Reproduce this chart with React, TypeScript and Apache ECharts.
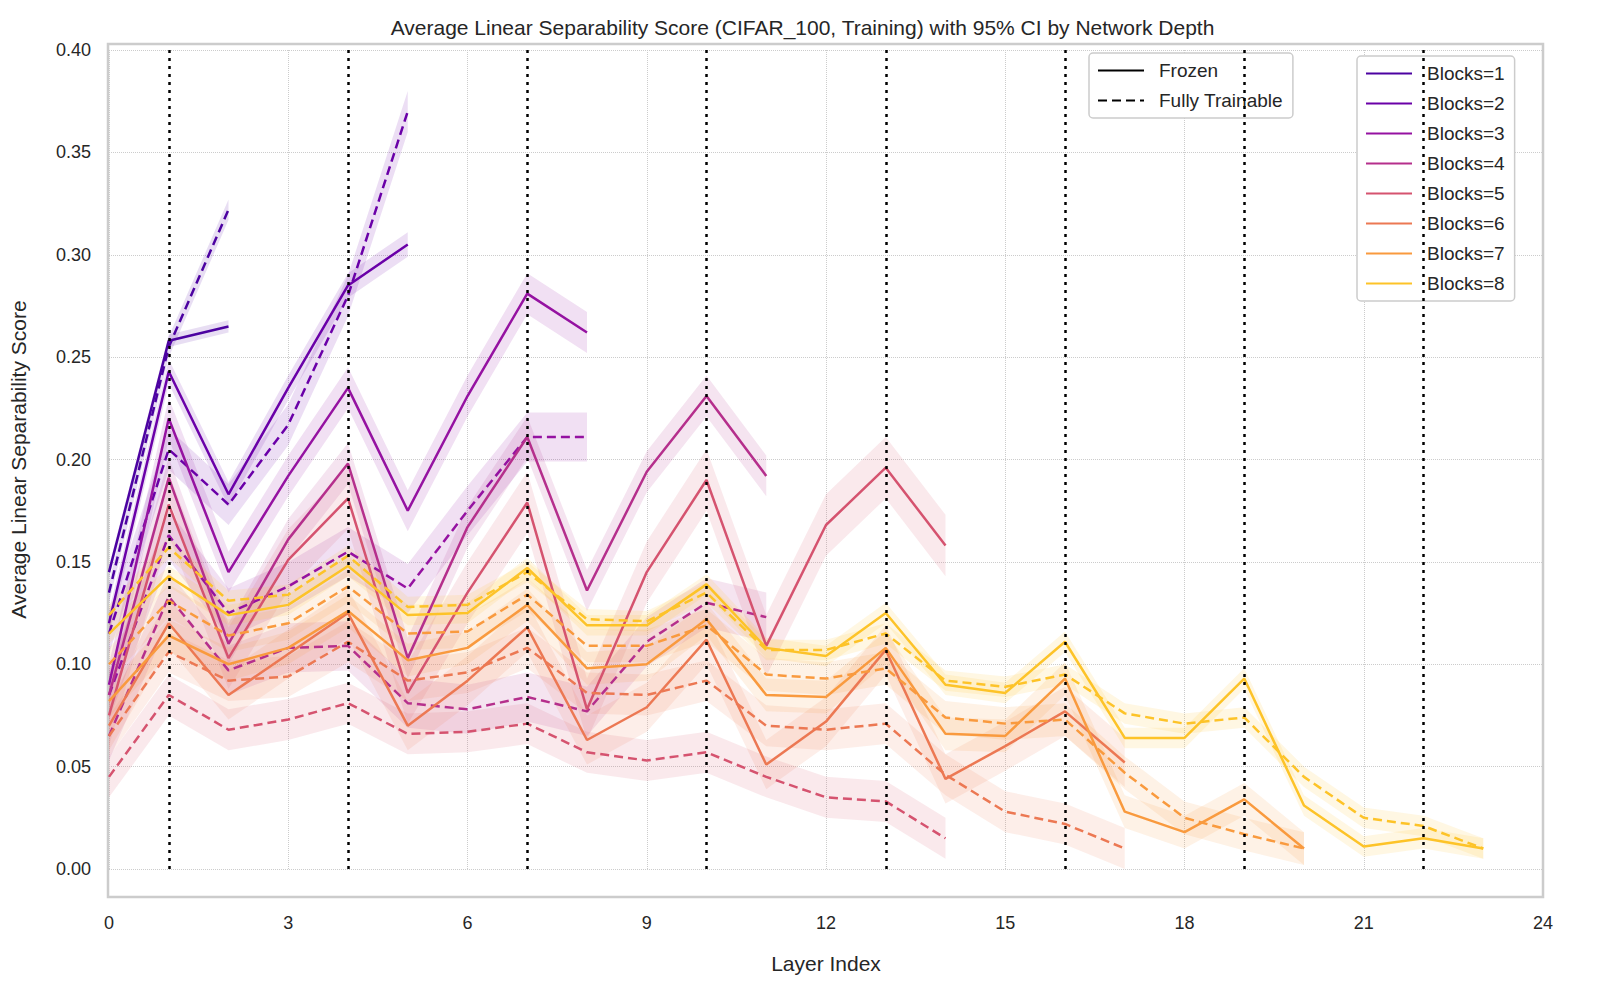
import React, { useEffect, useRef } from 'react'
import * as echarts from 'echarts'

const layers = Array.from({ length: 25 }, (_, i) => String(i))
const blockColors = ['#4c02a1', '#6a00a8', '#9512a1', '#b52f8c', '#d5536f', '#ec7853', '#f99a3e', '#fdc328']

// frozen (solid) and fully trainable (dashed) means per depth
const b1Frozen = [0.145, 0.258, 0.265]
const b1Train = [0.135, 0.255, 0.322]
const b2Frozen = [0.12, 0.243, 0.183, 0.235, 0.285, 0.305]
const b2Train = [0.115, 0.205, 0.178, 0.217, 0.28, 0.37]
const b3Frozen = [0.09, 0.22, 0.145, 0.192, 0.235, 0.175, 0.231, 0.281, 0.262]
const b3Train = [0.085, 0.163, 0.125, 0.138, 0.155, 0.137, 0.175, 0.211, 0.211]
const b4Frozen = [0.085, 0.191, 0.11, 0.161, 0.198, 0.103, 0.167, 0.211, 0.136, 0.194, 0.231, 0.192]
const b4Train = [0.065, 0.133, 0.097, 0.108, 0.109, 0.081, 0.078, 0.084, 0.077, 0.111, 0.13, 0.123]
const b5Frozen = [0.075, 0.178, 0.103, 0.151, 0.181, 0.086, 0.135, 0.179, 0.078, 0.145, 0.19, 0.109, 0.168, 0.196, 0.158]
const b5Train = [0.045, 0.085, 0.068, 0.073, 0.081, 0.066, 0.067, 0.071, 0.057, 0.053, 0.057, 0.045, 0.035, 0.033, 0.015]
const b6Frozen = [0.07, 0.12, 0.085, 0.105, 0.125, 0.07, 0.092, 0.118, 0.063, 0.079, 0.112, 0.051, 0.072, 0.107, 0.044, 0.06, 0.077, 0.052]
const b6Train = [0.065, 0.106, 0.092, 0.094, 0.111, 0.092, 0.096, 0.108, 0.086, 0.085, 0.092, 0.07, 0.068, 0.071, 0.046, 0.028, 0.022, 0.01]
const b7Frozen = [0.082, 0.114, 0.1, 0.108, 0.126, 0.102, 0.108, 0.129, 0.098, 0.1, 0.122, 0.085, 0.084, 0.108, 0.066, 0.065, 0.093, 0.028, 0.018, 0.034, 0.01]
const b7Train = [0.1, 0.131, 0.114, 0.12, 0.138, 0.115, 0.116, 0.134, 0.109, 0.109, 0.119, 0.095, 0.093, 0.098, 0.074, 0.071, 0.073, 0.047, 0.025, 0.017, 0.01]
const b8Frozen = [0.115, 0.143, 0.124, 0.129, 0.148, 0.124, 0.125, 0.147, 0.119, 0.119, 0.139, 0.108, 0.104, 0.125, 0.09, 0.086, 0.111, 0.064, 0.064, 0.093, 0.031, 0.011, 0.015, 0.01]
const b8Train = [0.124, 0.157, 0.131, 0.134, 0.153, 0.128, 0.129, 0.145, 0.122, 0.121, 0.135, 0.107, 0.107, 0.115, 0.092, 0.089, 0.095, 0.076, 0.071, 0.074, 0.045, 0.025, 0.021, 0.01]

// rough 95% CI half widths
const ciFrozen = [0.003, 0.006, 0.01, 0.01, 0.015, 0.012, 0.008, 0.005]
const ciTrain = [0.005, 0.01, 0.012, 0.012, 0.01, 0.01, 0.008, 0.005]

const frozen = [b1Frozen, b2Frozen, b3Frozen, b4Frozen, b5Frozen, b6Frozen, b7Frozen, b8Frozen]
const trainable = [b1Train, b2Train, b3Train, b4Train, b5Train, b6Train, b7Train, b8Train]
const boundaries = ['1', '4', '7', '10', '13', '16', '19', '22']

const font = 'Liberation Sans, Arial, sans-serif'

const App = () => {
    const chart: any = useRef()
    useEffect(() => {
        document.body.style.margin = '0'
        const myChart = echarts.init(chart.current, null, { renderer: 'svg' })
        let series: any = []
        const band = (vals: number[], ci: number, color: string, key: string) => {
            series.push({
                type: 'line', name: 'lo-' + key, stack: key, data: vals.map(v => v - ci),
                symbol: 'none', lineStyle: { opacity: 0 }, silent: true, z: 1
            })
            series.push({
                type: 'line', name: 'hi-' + key, stack: key, data: vals.map(() => 2 * ci),
                symbol: 'none', lineStyle: { opacity: 0 }, silent: true, z: 1,
                areaStyle: { color, opacity: 0.13 }
            })
        }
        for (let i = 0; i < 8; i++) {
            band(frozen[i], ciFrozen[i], blockColors[i], 'f' + i)
            band(trainable[i], ciTrain[i], blockColors[i], 't' + i)
        }
        for (let i = 0; i < 8; i++) {
            series.push({
                type: 'line', name: `Blocks=${i + 1}`, data: frozen[i], symbol: 'none', z: 3,
                color: blockColors[i], lineStyle: { width: 2.5, color: blockColors[i] }
            })
            series.push({
                type: 'line', name: `Blocks=${i + 1} `, data: trainable[i], symbol: 'none', z: 3,
                color: blockColors[i], lineStyle: { width: 2.5, color: blockColors[i], type: [9, 5] }
            })
        }
        series.push({
            type: 'line', name: 'Frozen', data: [], symbol: 'none', color: '#000',
            lineStyle: { width: 2.5, color: '#000' },
            markLine: {
                silent: true, symbol: 'none', label: { show: false },
                lineStyle: { color: '#000', type: [3, 5], width: 2.5 },
                data: boundaries.map(b => ({ xAxis: b }))
            }
        })
        series.push({
            type: 'line', name: 'Fully Trainable', data: [], symbol: 'none', color: '#000',
            lineStyle: { width: 2.5, color: '#000', type: [9, 5] }
        })
        const legendBase = {
            orient: 'vertical', backgroundColor: '#fff', borderColor: '#ccc', borderWidth: 1.5,
            borderRadius: 4, itemWidth: 46, itemHeight: 12, itemGap: 11,
            itemStyle: { color: 'transparent', borderWidth: 0 },
            textStyle: { fontFamily: font, fontSize: 19, color: '#262626', padding: [0, 0, 0, 10] }
        }
        myChart.setOption({
            animation: false,
            title: {
                text: 'Average Linear Separability Score (CIFAR_100, Training) with 95% CI by Network Depth',
                left: 'center', top: 12,
                textStyle: { fontFamily: font, fontSize: 21, fontWeight: 'normal', color: '#262626' }
            },
            grid: { left: 108, right: 62, top: 50, bottom: 135 },
            graphic: [{
                type: 'rect', shape: { x: 108, y: 44, width: 1435, height: 853 },
                style: { fill: 'none', stroke: '#cccccc', lineWidth: 2.5 }, z: 0
            }],
            legend: [
                { ...legendBase, data: ['Frozen', 'Fully Trainable'], left: 1089, top: 53, padding: [8, 10, 8, 8] },
                { ...legendBase, data: blockColors.map((_, i) => `Blocks=${i + 1}`), left: 1357, top: 56, padding: [8, 10, 8, 8] }
            ],
            xAxis: {
                type: 'category', data: layers, boundaryGap: false,
                name: 'Layer Index', nameLocation: 'middle', nameGap: 84,
                nameTextStyle: { fontFamily: font, fontSize: 21, color: '#262626' },
                axisLine: { show: false }, axisTick: { show: false },
                axisLabel: { interval: 2, margin: 45, fontFamily: font, fontSize: 18, color: '#262626' },
                splitLine: { show: true, interval: 2, lineStyle: { color: '#cccccc', type: 'dotted', width: 1 } }
            },
            yAxis: {
                type: 'value', min: 0, max: 0.4, interval: 0.05,
                name: 'Average Linear Separability Score', nameLocation: 'middle', nameGap: 80,
                nameTextStyle: { fontFamily: font, fontSize: 21, color: '#262626' },
                axisLine: { show: false }, axisTick: { show: false },
                axisLabel: { margin: 18, fontFamily: font, fontSize: 18, color: '#262626', formatter: (v: number) => v.toFixed(2) },
                splitLine: { show: true, lineStyle: { color: '#cccccc', type: 'dotted', width: 1 } }
            },
            series
        })
        return () => {
            myChart.dispose()
        }
    }, [])

    return (
        <div ref={chart} style={{ width: 1605, height: 1004 }} />
    )
}

export default App
